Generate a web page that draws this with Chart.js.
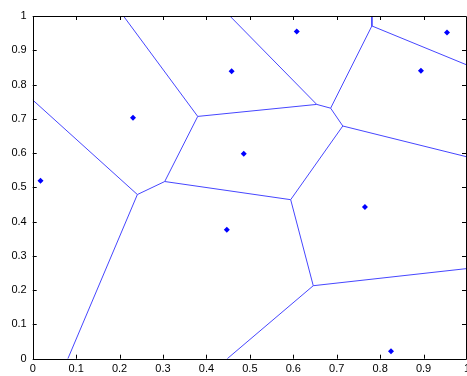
<!DOCTYPE html>
<html>
<head>
<meta charset="utf-8">
<script src="https://cdn.jsdelivr.net/npm/chart.js@4.4.1/dist/chart.umd.min.js"></script>
<style>
  html, body { margin: 0; padding: 0; background: #ffffff; }
  #wrap { width: 467px; height: 376px; position: relative; }
</style>
</head>
<body>
<div id="wrap"><canvas id="c" width="467" height="376"></canvas></div>
<script>
// Generator sites of the Voronoi diagram
const siteX = [0.018, 0.231, 0.458, 0.608, 0.954, 0.894, 0.486, 0.765, 0.447, 0.825];
const siteY = [0.519, 0.703, 0.839, 0.955, 0.952, 0.840, 0.598, 0.443, 0.376, 0.022];

// Voronoi vertices (inner ones first, then where edges meet the plot border)
const vertexX = [0.241, 0.304, 0.380, 0.654, 0.686, 0.714, 0.594, 0.646, 0.781,
                 0.000, 0.081, 0.209, 0.454, 0.781, 1.000, 1.000, 1.000, 0.448];
const vertexY = [0.479, 0.517, 0.707, 0.742, 0.731, 0.679, 0.464, 0.213, 0.971,
                 0.755, 0.000, 1.000, 1.000, 1.000, 0.857, 0.589, 0.263, 0.000];

// Edges as pairs of vertex indices
const edgeFrom = [9, 0, 0, 1, 1, 11, 2, 12, 3, 4, 13, 8, 4, 5, 5, 6, 7, 7];
const edgeTo   = [0, 10, 1, 2, 6, 2, 3, 3, 4, 8, 8, 14, 5, 15, 6, 7, 16, 17];

// Axis tick values
const tickValues = [0, 0.1, 0.2, 0.3, 0.4, 0.5, 0.6, 0.7, 0.8, 0.9, 1];

const edgeColor = 'rgb(70, 70, 255)';
const datasets = edgeFrom.map((a, i) => ({
  type: 'line',
  data: [{ x: vertexX[a], y: vertexY[a] }, { x: vertexX[edgeTo[i]], y: vertexY[edgeTo[i]] }],
  borderColor: edgeColor,
  borderWidth: 1,
  pointRadius: 0,
  fill: false,
  tension: 0,
  order: 2
}));
datasets.push({
  type: 'scatter',
  data: siteX.map((x, i) => ({ x: x, y: siteY[i] })),
  backgroundColor: '#0000ff',
  borderColor: '#0000ff',
  pointStyle: 'rectRot',
  pointRadius: 3,
  borderWidth: 0,
  order: 1
});

const tickFont = { family: '"Liberation Sans", Arial, sans-serif', size: 11 };

// Box around the axes with inward ticks on all four sides, plus x tick labels
// (drawn here so the last label may run past the canvas edge)
const boxPlugin = {
  id: 'box',
  afterDraw(chart) {
    const { ctx, chartArea: a, scales } = chart;
    const len = 4;
    ctx.save();
    ctx.strokeStyle = '#000000';
    ctx.lineWidth = 1;
    ctx.beginPath();
    ctx.rect(Math.round(a.left) + 0.5, Math.round(a.top) + 0.5,
             Math.round(a.right) - Math.round(a.left) - 1, Math.round(a.bottom) - Math.round(a.top));
    ctx.stroke();
    ctx.beginPath();
    tickValues.forEach(v => {
      const px = Math.round(scales.x.getPixelForValue(v)) + 0.5;
      ctx.moveTo(px, a.bottom); ctx.lineTo(px, a.bottom - len);
      ctx.moveTo(px, a.top); ctx.lineTo(px, a.top + len);
      const py = Math.round(scales.y.getPixelForValue(v)) + 0.5;
      ctx.moveTo(a.left, py); ctx.lineTo(a.left + len, py);
      ctx.moveTo(a.right - 1, py); ctx.lineTo(a.right - 1 - len, py);
    });
    ctx.stroke();
    ctx.fillStyle = '#000000';
    ctx.font = tickFont.size + 'px ' + tickFont.family;
    ctx.textAlign = 'center';
    ctx.textBaseline = 'middle';
    tickValues.forEach(v => {
      ctx.fillText(String(v), scales.x.getPixelForValue(v), a.bottom + 10.5);
    });
    ctx.restore();
  }
};

new Chart(document.getElementById('c'), {
  data: { datasets: datasets },
  options: {
    responsive: false,
    animation: false,
    layout: { autoPadding: false, padding: { top: 16, right: 0, left: 0, bottom: 0 } },
    plugins: { legend: { display: false }, tooltip: { enabled: false } },
    scales: {
      x: {
        type: 'linear', min: 0, max: 1,
        afterBuildTicks: s => { s.ticks = tickValues.map(v => ({ value: v })); },
        afterFit: s => { s.height = 17.3; s.paddingLeft = 0; s.paddingRight = 0; },
        grid: { display: false, drawTicks: false },
        border: { display: false },
        ticks: { display: false }
      },
      y: {
        type: 'linear', min: 0, max: 1,
        afterBuildTicks: s => { s.ticks = tickValues.map(v => ({ value: v })); },
        afterFit: s => { s.width = 32.7; s.paddingTop = 0; s.paddingBottom = 0; },
        grid: { display: false, drawTicks: false },
        border: { display: false },
        ticks: { color: '#000000', font: tickFont, padding: 6, autoSkip: false,
                 callback: v => String(v) }
      }
    }
  },
  plugins: [boxPlugin]
});
</script>
</body>
</html>
